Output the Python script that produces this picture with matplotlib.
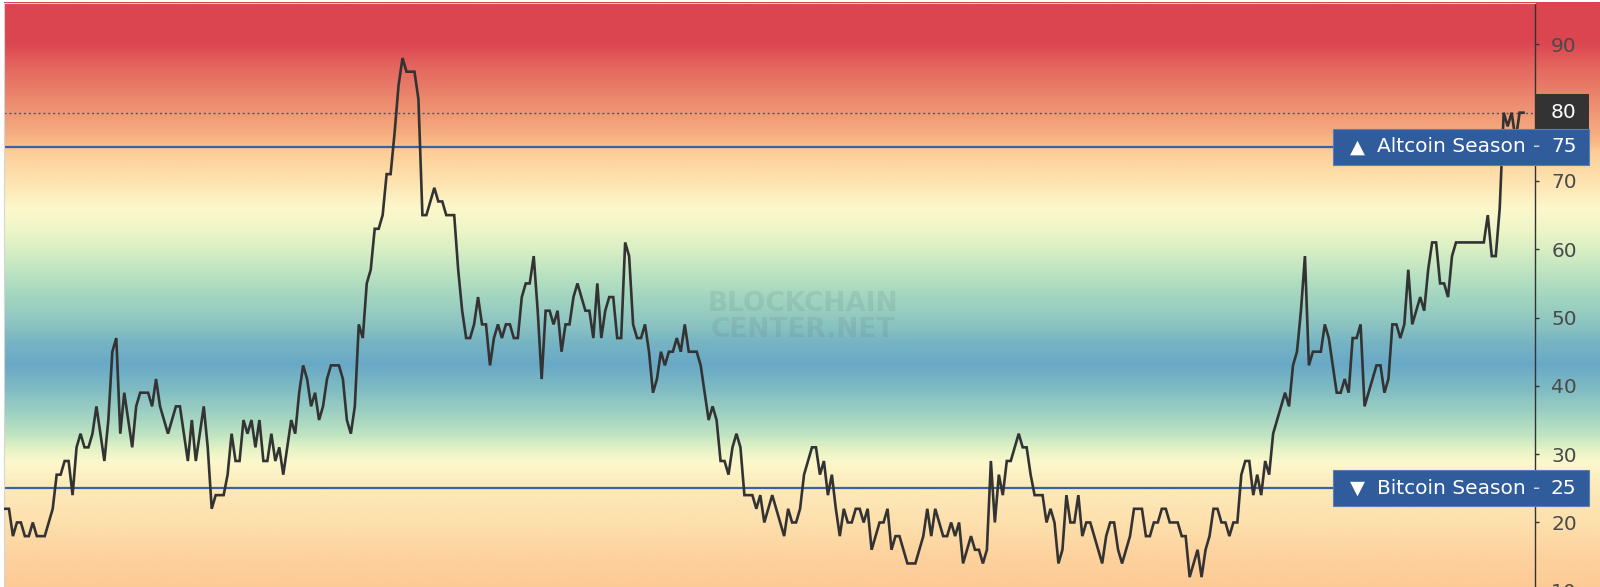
import numpy as np
import matplotlib
matplotlib.use('Agg')
from matplotlib import pyplot as plt
from matplotlib.colors import LinearSegmentedColormap
from matplotlib.patches import Rectangle
import matplotlib.transforms as mtransforms

# Altcoin season index, one value per day
altcoin_index = [
    22, 22, 18, 20, 20, 18, 18, 20, 18, 18,
    18, 20, 22, 27, 27, 29, 29, 24, 31, 33,
    31, 31, 33, 37, 33, 29, 35, 45, 47, 33,
    39, 35, 31, 37, 39, 39, 39, 37, 41, 37,
    35, 33, 35, 37, 37, 33, 29, 35, 29, 33,
    37, 31, 22, 24, 24, 24, 27, 33, 29, 29,
    35, 33, 35, 31, 35, 29, 29, 33, 29, 31,
    27, 31, 35, 33, 39, 43, 41, 37, 39, 35,
    37, 41, 43, 43, 43, 41, 35, 33, 37, 49,
    47, 55, 57, 63, 63, 65, 71, 71, 77, 84,
    88,
    86, 86, 86, 82, 65, 65, 67, 69, 67, 67,
    65, 65, 65, 57, 51, 47, 47, 49, 53, 49,
    49, 43, 47, 49, 47, 49, 49, 47, 47, 53,
    55, 55, 59, 51, 41, 51, 51, 49, 51, 45,
    49, 49, 53, 55, 53, 51, 51, 47, 55, 47,
    51, 53, 53, 47, 47, 61, 59, 49, 47, 47,
    49, 45, 39, 41, 45, 43, 45, 45, 47, 45,
    49, 45, 45, 45, 43, 39, 35, 37, 35, 29,
    29, 27, 31, 33, 31, 24, 24, 24, 22, 24,
    20, 22, 24, 22, 20, 18, 22, 20, 20, 22,
    27, 29, 31, 31, 27, 29, 24, 27, 22, 18,
    22, 20, 20, 22, 22, 20, 22, 16, 18, 20,
    20, 22, 16, 18, 18, 16, 14, 14, 14, 16,
    18, 22, 18, 22, 20, 18, 18, 20, 18, 20,
    14, 16, 18, 16, 16, 14, 16, 29, 20, 27,
    24, 29, 29, 31, 33, 31, 31, 27, 24, 24,
    24, 20, 22, 20, 14, 16, 24, 20, 20, 24,
    18, 20, 20, 18, 16, 14, 18, 20, 20, 16,
    14, 16, 18, 22, 22, 22, 18, 18, 20, 20,
    22, 22, 20, 20, 20, 18, 18, 12, 14, 16,
    12, 16, 18, 22, 22, 20, 20, 18, 20, 20,
    27, 29, 29, 24, 27, 24, 29, 27, 33, 35,
    37, 39, 37, 43, 45, 51, 59,
    43, 45, 45, 45, 49, 47, 43, 39, 39, 41,
    39, 47, 47, 49, 37, 39, 41, 43, 43, 39,
    41, 49, 49, 47, 49, 57, 49, 51, 53, 51,
    57, 61, 61, 55, 55, 53, 59, 61, 61, 61,
    61, 61, 61, 61, 61, 65, 59, 59, 66, 80,
    78, 80, 76, 80, 80,
]
current_value = 80
altcoin_level = 75
bitcoin_level = 25
ytick_values = [10, 20, 30, 40, 50, 60, 70, 80, 90]

# background colour stops (index value, colour)
bg_levels = [5, 10.5, 15, 20, 24.8, 28.7, 30.6, 32.5, 35.4, 39.4, 43, 46, 49,
             53.6, 57, 60, 63, 66, 69, 72, 74.5, 75.5, 77, 81.9, 86.7, 90.5, 96.1]
bg_colors = ['#fdc891', '#fdcb96', '#fdd29e', '#fde0ad', '#fde9b9', '#fcf8cc',
             '#e5f3c6', '#c3e6c2', '#a2d4c1', '#80bcc3', '#69a9c6', '#75b3c4',
             '#8cc4c2', '#a6d8c0', '#c0e5c2', '#d9efc4', '#eff6c8', '#fcf8cc',
             '#fde8b6', '#fdd9a4', '#fdcc96', '#f9bb88', '#f5ad80', '#ec8a6e',
             '#e4675f', '#db4550', '#db4550']

days = np.arange(len(altcoin_index))

fig = plt.figure(figsize=(16, 5.87), dpi=100)
fig.patch.set_facecolor('white')

W, H = 1600, 587
ymin, ymax = 5, 96.1
top_px, px_per_unit = 2.7, 6.83
bot_px = top_px + (ymax - ymin) * px_per_unit
left_px, right_px = 4, 1535.5
ax = fig.add_axes([left_px / W, 1 - bot_px / H, (right_px - left_px) / W,
                   (bot_px - top_px) / H])

xmin, xmax = -0.25, 385.0

# gradient background, runs on under the right-hand labels
x_fig_right = xmax + (W - right_px) * (xmax - xmin) / (right_px - left_px)
pos = [(v - ymin) / (ymax - ymin) for v in bg_levels]
cmap = LinearSegmentedColormap.from_list('season', list(zip(pos, bg_colors)))
grad = np.linspace(0, 1, 800).reshape(-1, 1)
ax.imshow(grad, cmap=cmap, origin='lower', aspect='auto',
          extent=[xmin, x_fig_right, ymin, ymax], clip_on=False, zorder=0,
          interpolation='bilinear')
ax.set_xlim(xmin, xmax)
ax.set_ylim(ymin, ymax)

trans = mtransforms.blended_transform_factory(ax.transAxes, ax.transData)

# watermark
ax.text(0.5217, 50.1, 'BLOCKCHAIN\nCENTER.NET', transform=trans, ha='center',
        va='center', fontsize=19, fontweight='bold', color='#4d6b6b', alpha=0.13,
        linespacing=1.0, zorder=1)

# season lines and current level
ax.axhline(altcoin_level, color='#3b62a0', lw=1.6, zorder=2)
ax.axhline(bitcoin_level, color='#3b62a0', lw=1.6, zorder=2)
ax.axhline(current_value, color='#555555', lw=1.0, ls=(0, (1.5, 2)), zorder=2)

ax.plot(days, altcoin_index, color='#333333', lw=1.9, zorder=3,
        solid_joinstyle='miter')

# axes styling
ax.spines['bottom'].set_visible(False)
ax.spines['left'].set_color('#d5d5d5')
ax.spines['top'].set_color('#d5d5d5')
ax.spines['right'].set_color('#333333')
ax.spines['right'].set_linewidth(1.0)
ax.set_xticks([])
ax.yaxis.tick_right()
ax.set_yticks(ytick_values)
ax.set_yticklabels([str(v) for v in ytick_values])
ax.tick_params(axis='y', length=3, width=1, color='#333333', pad=8.3,
               labelsize=14.5, labelcolor='#4a4a4a')

# current value box
bx0 = 1.0
bx1 = (1589 - left_px) / (right_px - left_px)
ax.add_patch(Rectangle((bx0, 77.47), bx1 - bx0, 82.74 - 77.47, transform=trans,
                       facecolor='#333333', edgecolor='none', clip_on=False, zorder=5))
lx = (1551 - left_px) / (right_px - left_px)
ax.text(lx, current_value, str(current_value), transform=trans, ha='left',
        va='center', fontsize=14.5, color='white', zorder=6)

# season boxes
sx0 = (1333 - left_px) / (right_px - left_px)
tri_x = (1350 - left_px) / (right_px - left_px)
name_x = (1377 - left_px) / (right_px - left_px)
dash_x = (1537 - left_px) / (right_px - left_px)
for level, name, arrow in [(altcoin_level, 'Altcoin Season', '\u25B2'),
                           (bitcoin_level, 'Bitcoin Season', '\u25BC')]:
    ax.add_patch(Rectangle((sx0, level - 2.65), bx1 - sx0, 5.3, transform=trans,
                           facecolor='#305c9c', edgecolor='#5a7fb5', lw=0.8,
                           clip_on=False, zorder=5))
    ax.text(tri_x, level, arrow, transform=trans, ha='left', va='center',
            fontsize=14, color='white', zorder=6)
    ax.text(name_x, level, name, transform=trans, ha='left', va='center',
            fontsize=14.5, color='white', zorder=6)
    ax.text(dash_x, level, '-', transform=trans, ha='center', va='center',
            fontsize=14.5, color='#c8d4e8', zorder=6)
    ax.text(lx, level, str(level), transform=trans, ha='left', va='center',
            fontsize=14.5, color='white', zorder=6)

plt.savefig('out.png', dpi=100)
plt.close()
